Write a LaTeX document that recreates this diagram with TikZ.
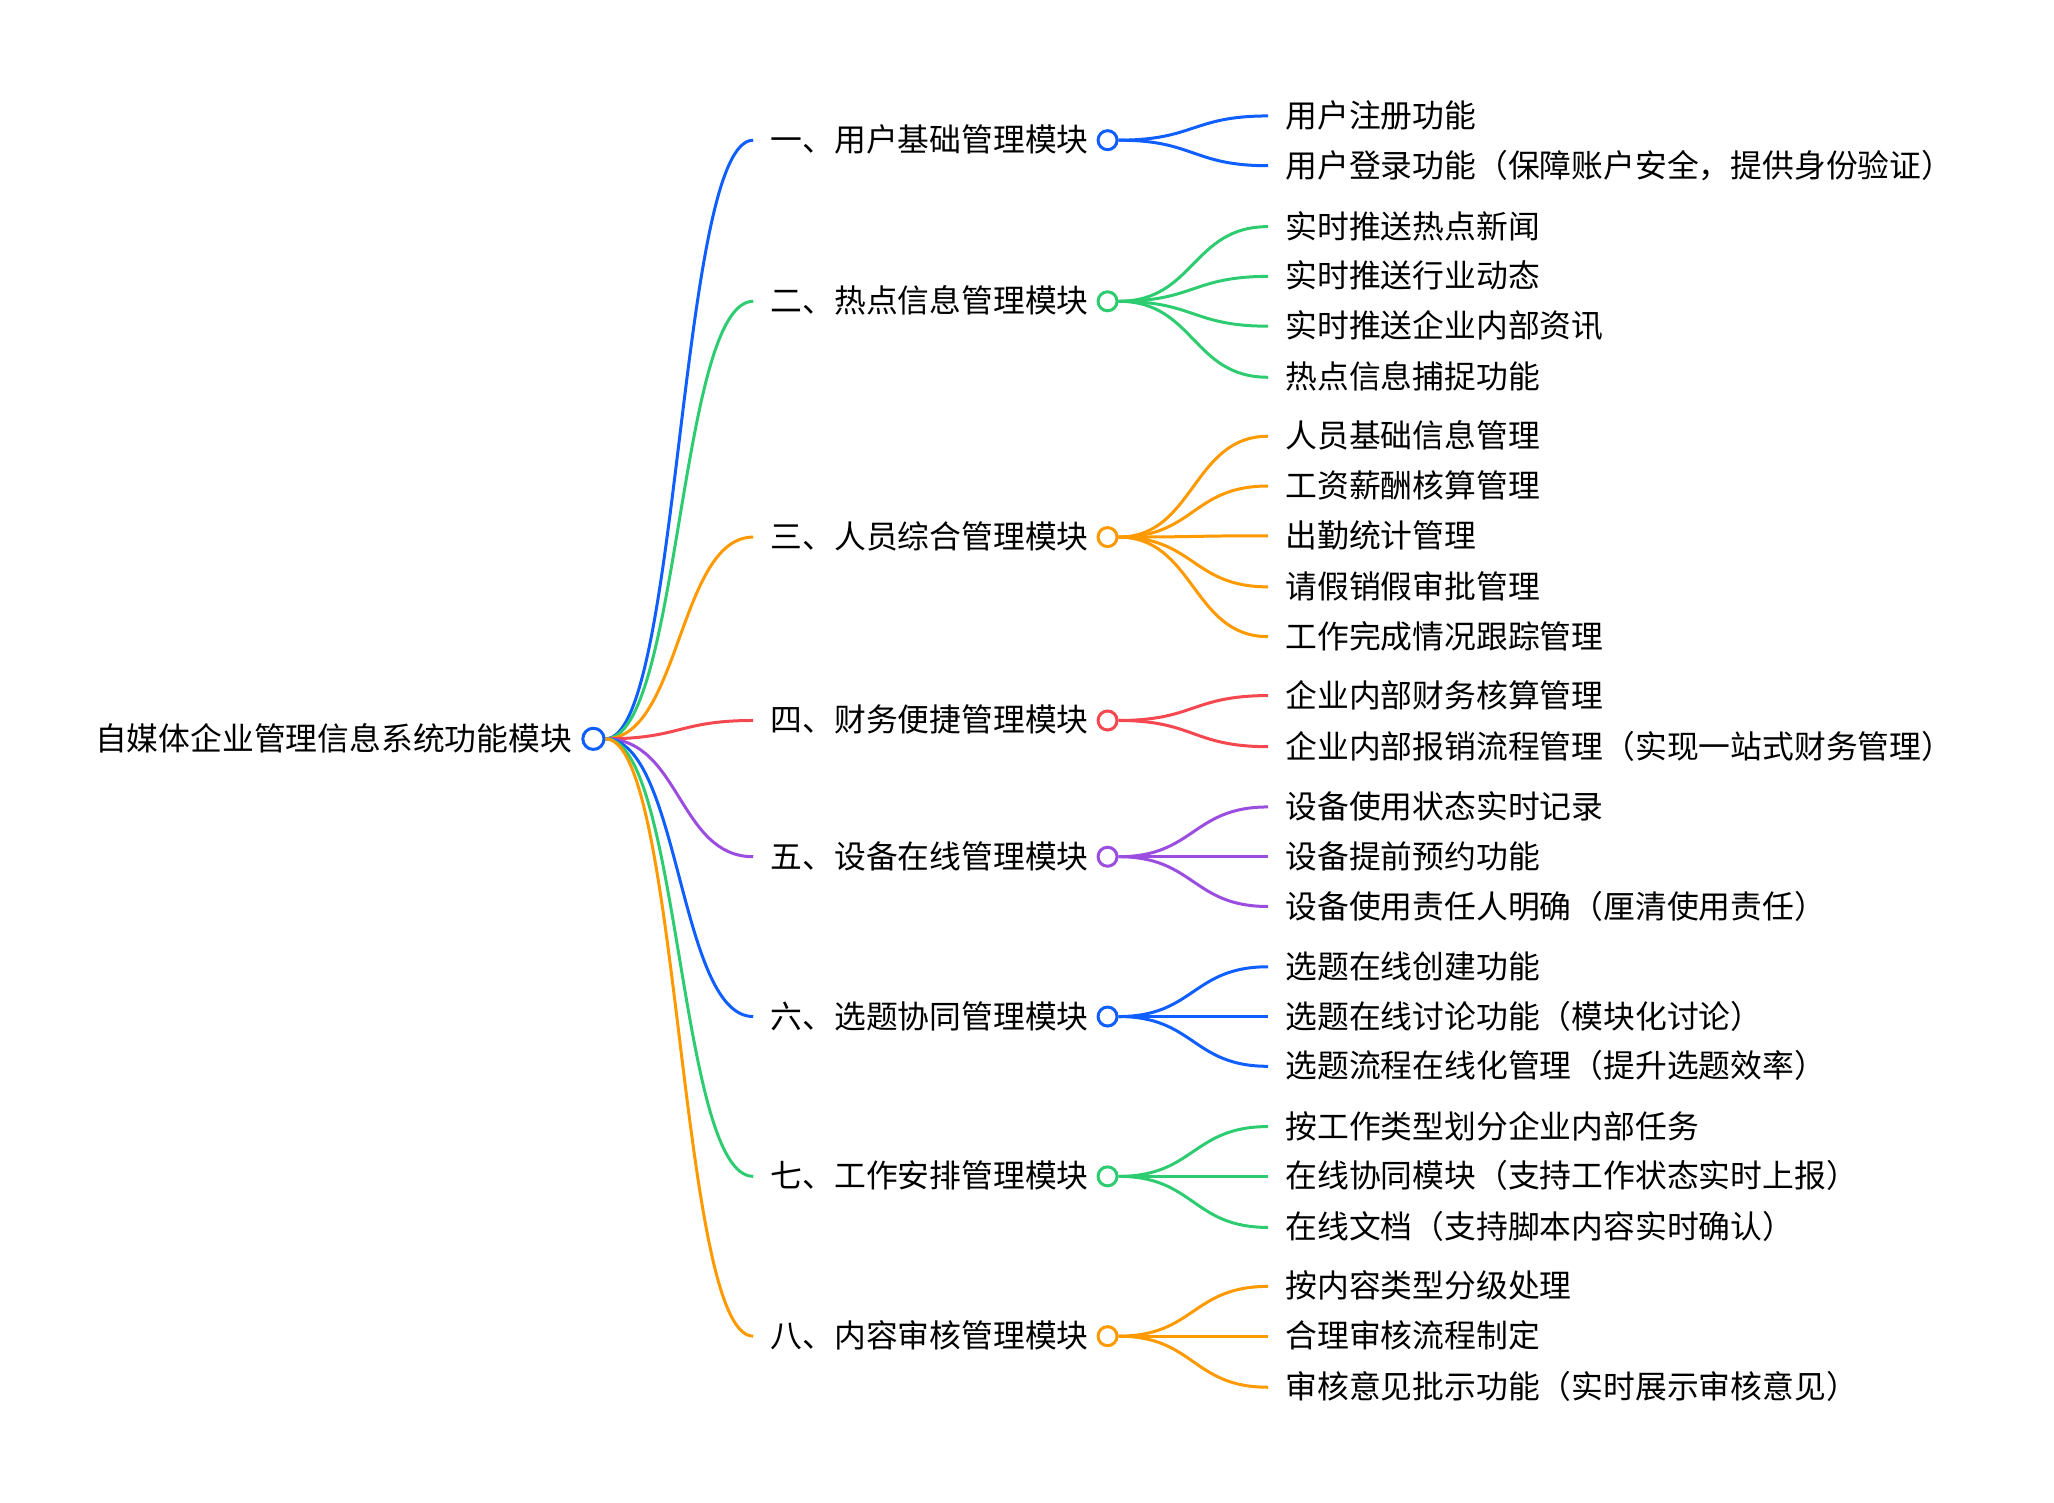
\documentclass[tikz,border=0pt]{standalone}
\usepackage{fontspec}
\setmainfont{Noto Sans CJK SC}
\definecolor{cblue}{HTML}{0F5EFF}
\definecolor{cgreen}{HTML}{2ECC71}
\definecolor{corange}{HTML}{FF9900}
\definecolor{cred}{HTML}{F5474F}
\definecolor{cpurple}{HTML}{9B4DE0}
\begin{document}
\begin{tikzpicture}[x=0.655pt,y=-0.655pt,
  txt/.style={font=\fontsize{15.9pt}{18pt}\selectfont, inner xsep=8.5pt, inner ysep=0pt, text height=1.25em, text depth=0.1em, text=black},
  lone/.style={txt, anchor=west},
  leaf/.style={txt, anchor=west},
  dot/.style={circle, draw=#1, line width=1.5pt, fill=white, inner sep=0pt, minimum size=9.5pt},
  con/.style={draw=#1, line width=1.5pt}]
\useasboundingbox (0,0) rectangle (1568,1147);

% root
\node[txt, anchor=east] (root) at (450,564) {自媒体企业管理信息系统功能模块};
\node[dot=cblue, minimum size=10.6pt] (rc) at (453,564) {};

% level 1
\node[lone] (a1) at (575,107) {一、用户基础管理模块};
\node[lone] (a2) at (575,230) {二、热点信息管理模块};
\node[lone] (a3) at (575,410) {三、人员综合管理模块};
\node[lone] (a4) at (575,550) {四、财务便捷管理模块};
\node[lone] (a5) at (575,654) {五、设备在线管理模块};
\node[lone] (a6) at (575,776) {六、选题协同管理模块};
\node[lone] (a7) at (575,898) {七、工作安排管理模块};
\node[lone] (a8) at (575,1020) {八、内容审核管理模块};

\node[dot=cblue] (c1) at (845.5,107) {};
\node[dot=cgreen] (c2) at (845.5,230) {};
\node[dot=corange] (c3) at (845.5,410) {};
\node[dot=cred] (c4) at (845.5,550) {};
\node[dot=cpurple] (c5) at (845.5,654) {};
\node[dot=cblue] (c6) at (845.5,776) {};
\node[dot=cgreen] (c7) at (845.5,898) {};
\node[dot=corange] (c8) at (845.5,1020) {};

\draw[con=cblue] (rc.east) .. controls +(57,0) and +(-57,0) .. (a1.west);
\draw[con=cgreen] (rc.east) .. controls +(57,0) and +(-57,0) .. (a2.west);
\draw[con=corange] (rc.east) .. controls +(57,0) and +(-57,0) .. (a3.west);
\draw[con=cred] (rc.east) .. controls +(57,0) and +(-57,0) .. (a4.west);
\draw[con=cpurple] (rc.east) .. controls +(57,0) and +(-57,0) .. (a5.west);
\draw[con=cblue] (rc.east) .. controls +(57,0) and +(-57,0) .. (a6.west);
\draw[con=cgreen] (rc.east) .. controls +(57,0) and +(-57,0) .. (a7.west);
\draw[con=corange] (rc.east) .. controls +(57,0) and +(-57,0) .. (a8.west);

% leaves
\node[leaf] (b11) at (968,88.5) {用户注册功能};
\node[leaf] (b12) at (968,126.5) {用户登录功能（保障账户安全，提供身份验证）};

\node[leaf] (b21) at (968,173) {实时推送热点新闻};
\node[leaf] (b22) at (968,211) {实时推送行业动态};
\node[leaf] (b23) at (968,249) {实时推送企业内部资讯};
\node[leaf] (b24) at (968,288) {热点信息捕捉功能};

\node[leaf] (b31) at (968,333) {人员基础信息管理};
\node[leaf] (b32) at (968,371) {工资薪酬核算管理};
\node[leaf] (b33) at (968,409) {出勤统计管理};
\node[leaf] (b34) at (968,448) {请假销假审批管理};
\node[leaf] (b35) at (968,486) {工作完成情况跟踪管理};

\node[leaf] (b41) at (968,531) {企业内部财务核算管理};
\node[leaf] (b42) at (968,570) {企业内部报销流程管理（实现一站式财务管理）};

\node[leaf] (b51) at (968,616) {设备使用状态实时记录};
\node[leaf] (b52) at (968,654) {设备提前预约功能};
\node[leaf] (b53) at (968,692) {设备使用责任人明确（厘清使用责任）};

\node[leaf] (b61) at (968,738) {选题在线创建功能};
\node[leaf] (b62) at (968,776) {选题在线讨论功能（模块化讨论）};
\node[leaf] (b63) at (968,814) {选题流程在线化管理（提升选题效率）};

\node[leaf] (b71) at (968,860) {按工作类型划分企业内部任务};
\node[leaf] (b72) at (968,898) {在线协同模块（支持工作状态实时上报）};
\node[leaf] (b73) at (968,937) {在线文档（支持脚本内容实时确认）};

\node[leaf] (b81) at (968,982) {按内容类型分级处理};
\node[leaf] (b82) at (968,1020) {合理审核流程制定};
\node[leaf] (b83) at (968,1059) {审核意见批示功能（实时展示审核意见）};

\foreach \c/\k/\n in {cblue/1/1,cblue/1/2,
  cgreen/2/1,cgreen/2/2,cgreen/2/3,cgreen/2/4,
  corange/3/1,corange/3/2,corange/3/3,corange/3/4,corange/3/5,
  cred/4/1,cred/4/2,
  cpurple/5/1,cpurple/5/2,cpurple/5/3,
  cblue/6/1,cblue/6/2,cblue/6/3,
  cgreen/7/1,cgreen/7/2,cgreen/7/3,
  corange/8/1,corange/8/2,corange/8/3}
  \draw[con=\c] (c\k.east) .. controls +(58,0) and +(-58,0) .. (b\k\n.west);
\end{tikzpicture}
\end{document}
